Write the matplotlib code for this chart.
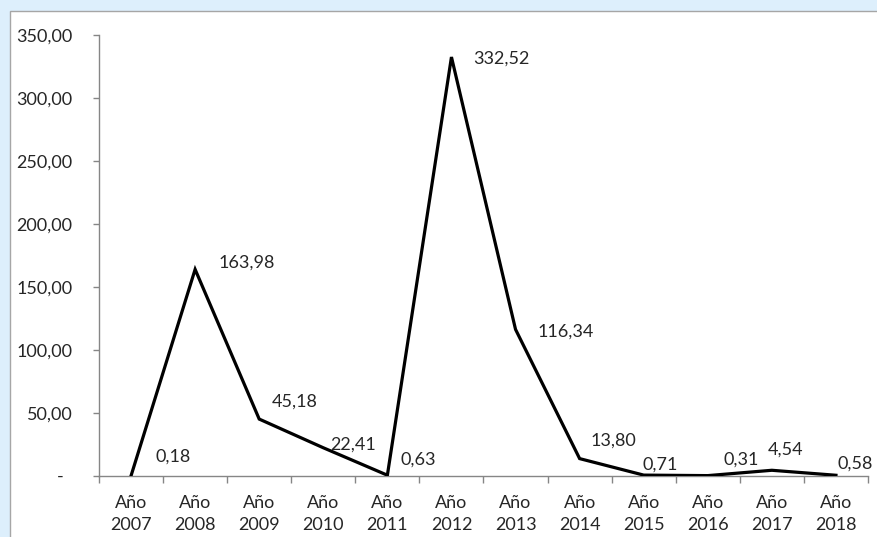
import matplotlib
matplotlib.use("Agg")
import matplotlib.pyplot as plt
from matplotlib.patches import Rectangle
from matplotlib.ticker import FixedLocator, FixedFormatter

plt.rcParams['font.family'] = ['Lato', 'DejaVu Sans']

# Data
years = ["2007", "2008", "2009", "2010", "2011", "2012",
         "2013", "2014", "2015", "2016", "2017", "2018"]
values = [0.18, 163.98, 45.18, 22.41, 0.63, 332.52,
          116.34, 13.80, 0.71, 0.31, 4.54, 0.58]
y_ticks = [0, 50, 100, 150, 200, 250, 300, 350]

# Label placement (pixel offsets from each point)
label_offsets = [(24, 19), (23, 7), (13, 17), (7, 3), (13, 16), (22, -2),
                 (22, -2), (11, 18), (-1, 10), (16, 16), (-4, 21), (2, 12)]

FS = 13
W, H, DPI = 878, 537, 100
fig = plt.figure(figsize=(W / DPI, H / DPI), dpi=DPI)
fig.patch.set_facecolor("#DDEFFC")

# White chart area with thin grey border (runs off the right and bottom edges)
fig.add_artist(Rectangle((10 / W, -0.1), 1.2, 1.1 - 11 / H, transform=fig.transFigure,
                         facecolor="white", edgecolor="#A6A6A6", linewidth=1.0,
                         zorder=0))

ax = fig.add_axes([99 / W, 1 - 476 / H, (868 - 99) / W, (476 - 35) / H])
ax.set_facecolor("none")

x = list(range(len(years)))
ax.plot(x, values, color="black", linewidth=2.3, solid_joinstyle="miter", zorder=3)

ax.set_xlim(-0.5, len(years) - 0.5)
ax.set_ylim(0, 350)

# Category axis: ticks between categories
ax.xaxis.set_major_locator(FixedLocator([i - 0.5 for i in range(len(years) + 1)]))
ax.xaxis.set_major_formatter(FixedFormatter([""] * (len(years) + 1)))
ax.xaxis.set_minor_locator(FixedLocator(x))
ax.xaxis.set_minor_formatter(FixedFormatter([f"Año\n{y}" for y in years]))
ax.tick_params(axis="x", which="major", length=5, width=1, color="#868686", direction="out")
ax.tick_params(axis="x", which="minor", length=0, pad=14, labelsize=FS, labelcolor="#262626")
for lbl in ax.get_xticklabels(minor=True):
    lbl.set_linespacing(1.4)

ax.set_yticks(y_ticks)
ax.set_yticklabels(["-  "] + [f"{v:.2f}".replace(".", ",") for v in y_ticks[1:]])
ax.tick_params(axis="y", length=4, width=1, color="#868686", direction="out", pad=15,
               labelsize=FS, labelcolor="#262626")

for side in ("top", "right"):
    ax.spines[side].set_visible(False)
for side in ("left", "bottom"):
    ax.spines[side].set_color("#868686")
    ax.spines[side].set_linewidth(1.0)

for xi, v, (dx, dy) in zip(x, values, label_offsets):
    ax.annotate(f"{v:.2f}".replace(".", ","), (xi, v), xytext=(dx, dy),
                textcoords="offset pixels", ha="left", va="center",
                fontsize=FS, color="#262626", zorder=4)

fig.savefig("out.png", dpi=DPI, facecolor=fig.get_facecolor())
